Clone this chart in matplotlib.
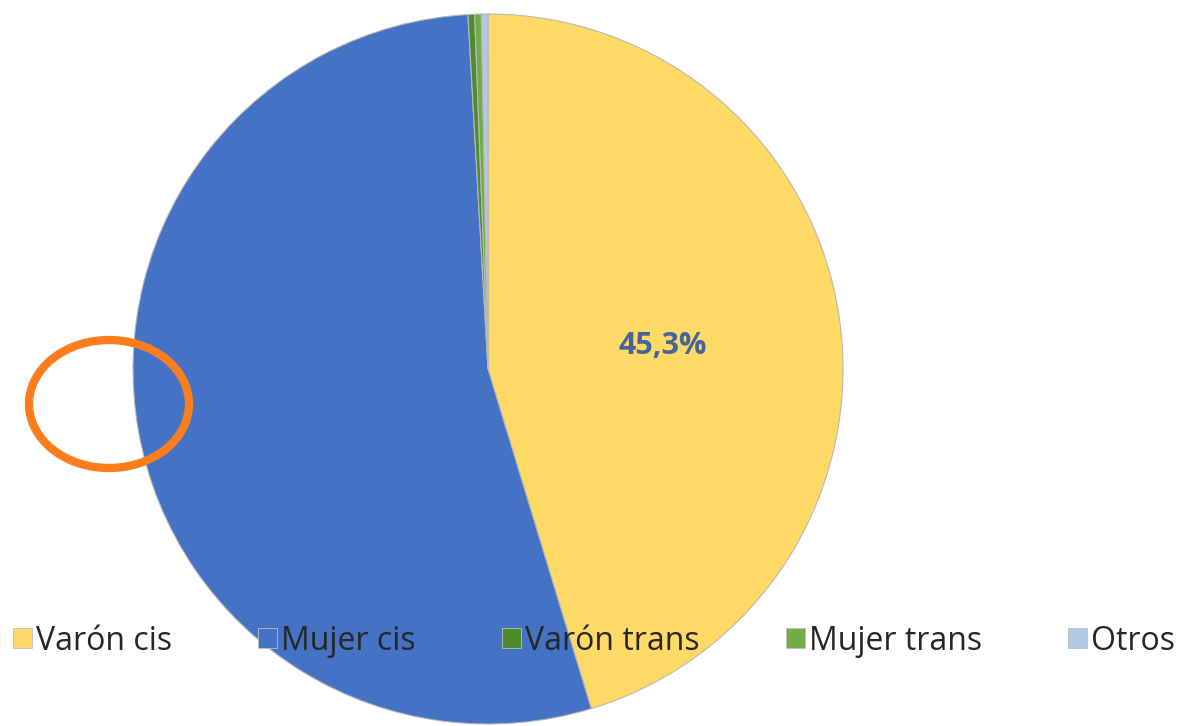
import matplotlib
matplotlib.use("Agg")
import matplotlib.pyplot as plt
from matplotlib.patches import Ellipse, Patch

labels = ["Varón cis", "Mujer cis", "Varón trans", "Mujer trans", "Otros"]
values = [45.3, 53.8, 0.3, 0.3, 0.3]
colors = ["#FFD966", "#4472C4", "#4E8A2E", "#70AD47", "#B4C7E7"]

W, H = 1181, 726
plt.rcParams["font.family"] = ["Open Sans", "DejaVu Sans"]

fig = plt.figure(figsize=(W / 100, H / 100), dpi=100)
ax = fig.add_axes([0, 0, 1, 1])

wedges, _ = ax.pie(
    values,
    colors=colors,
    startangle=90,
    counterclock=False,
    center=(488, H - 369),
    radius=355,
    wedgeprops=dict(edgecolor="#B8B8B8", linewidth=0.8),
    frame=True,
)
ax.set_xlim(0, W)
ax.set_ylim(0, H)
ax.set_aspect("equal")
ax.axis("off")

# only the first slice gets its label
ax.text(663, H - 346, f"{values[0]:.1f}%".replace(".", ","), ha="center",
        va="center", fontsize=22, fontweight="bold", color="#44649A")

handles = [Patch(facecolor=c, edgecolor="#BFBFBF", linewidth=0.6) for c in colors]
leg = fig.legend(handles, labels, loc="center", ncol=5,
                 bbox_to_anchor=(0.503, 1 - 641 / H), frameon=False,
                 fontsize=23, handlelength=0.6, handleheight=0.6,
                 handletextpad=0.12, columnspacing=2.7, labelcolor="#262626")

ell = Ellipse((109, H - 404), 160, 128, fill=False, edgecolor="#FB7D1E",
              linewidth=6)
ax.add_patch(ell)

fig.savefig("out.png", dpi=100)
